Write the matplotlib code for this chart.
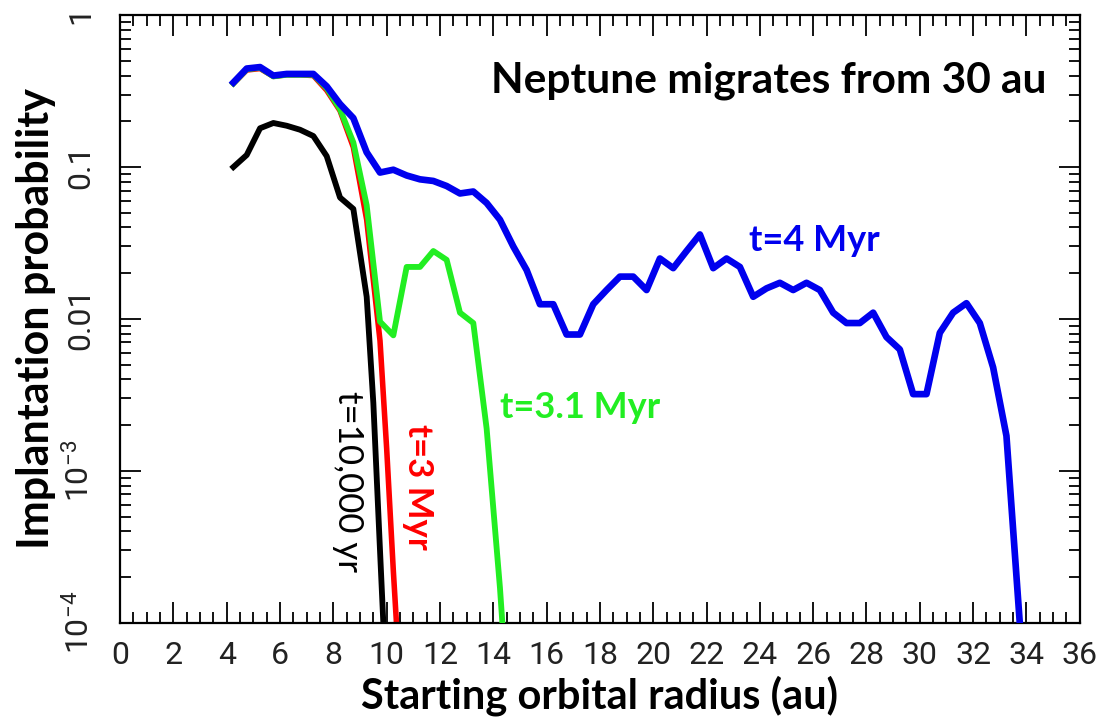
import matplotlib.pyplot as plt
from matplotlib.ticker import MultipleLocator, LogLocator, FixedLocator, NullFormatter

# starting radius (au) and implantation probability for each snapshot
blue_x = [4.25, 4.75, 5.25, 5.75, 6.25, 6.75, 7.25, 7.75, 8.25, 8.75, 9.25, 9.75,
          10.25, 10.75, 11.25, 11.75, 12.25, 12.75, 13.25, 13.75, 14.25, 14.75,
          15.25, 15.75, 16.25, 16.75, 17.25, 17.75, 18.25, 18.75, 19.25, 19.75,
          20.25, 20.75, 21.25, 21.75, 22.25, 22.75, 23.25, 23.75, 24.25, 24.75,
          25.25, 25.75, 26.25, 26.75, 27.25, 27.75, 28.25, 28.75, 29.25, 29.75,
          30.25, 30.75, 31.25, 31.75, 32.25, 32.75, 33.25, 33.75]
blue_y = [0.36, 0.445, 0.455, 0.40, 0.41, 0.41, 0.41, 0.34, 0.26, 0.21, 0.125, 0.092,
          0.096, 0.088, 0.083, 0.081, 0.075, 0.067, 0.069, 0.058, 0.045, 0.030,
          0.021, 0.0125, 0.0125, 0.0079, 0.0079, 0.0125, 0.0155, 0.019, 0.019, 0.0155,
          0.025, 0.0216, 0.028, 0.036, 0.0216, 0.025, 0.022, 0.014, 0.0159, 0.0173,
          0.0155, 0.0173, 0.0155, 0.011, 0.0094, 0.0094, 0.011, 0.0076, 0.0063, 0.0032,
          0.0032, 0.0081, 0.011, 0.0127, 0.0094, 0.0048, 0.0017, 0.0001]

green_x = [4.25, 4.75, 5.25, 5.75, 6.25, 6.75, 7.25, 7.75, 8.25, 8.75, 9.25, 9.75,
           10.25, 10.75, 11.25, 11.75, 12.25, 12.75, 13.25, 13.75, 14.25, 14.4]
green_y = [0.355, 0.44, 0.45, 0.395, 0.405, 0.405, 0.405, 0.33, 0.24, 0.145, 0.056, 0.0096,
           0.0078, 0.022, 0.022, 0.028, 0.0245, 0.011, 0.0094, 0.0019, 0.00017, 0.00007]

red_x = [4.25, 4.75, 5.25, 5.75, 6.25, 6.75, 7.25, 7.75, 8.25, 8.75, 9.25, 9.5,
         9.75, 10.0, 10.25, 10.4]
red_y = [0.355, 0.435, 0.445, 0.395, 0.405, 0.405, 0.40, 0.32, 0.235, 0.135, 0.045, 0.018,
         0.0072, 0.0014, 0.00022, 0.00008]

black_x = [4.25, 4.75, 5.25, 5.75, 6.25, 6.75, 7.25, 7.75, 8.25, 8.75, 9.25, 9.5,
           9.75, 9.9]
black_y = [0.10, 0.12, 0.18, 0.195, 0.187, 0.176, 0.16, 0.118, 0.063, 0.053, 0.014, 0.0028,
           0.0003, 0.00008]

ytick_vals = [1e-4, 1e-3, 1e-2, 1e-1, 1]
ytick_labels = [r'$\mathregular{10^{-4}}$', r'$\mathregular{10^{-3}}$', '0.01', '0.1', '1']

plt.rcParams['font.family'] = ['Lato', 'DejaVu Sans']

fig = plt.figure(figsize=(11.12, 7.2), dpi=100)
ax = fig.add_axes([0.108, 0.135, 0.863, 0.844])

ax.plot(black_x, black_y, color='black', lw=4.2, zorder=1)
ax.plot(red_x, red_y, color='#ff0000', lw=4.0, zorder=2)
ax.plot(green_x, green_y, color='#22ee22', lw=4.2, zorder=3)
ax.plot(blue_x, blue_y, color='#0000ee', lw=4.8, zorder=4)

ax.set_yscale('log')
ax.set_xlim(0, 36)
ax.set_ylim(1e-4, 1)

ax.xaxis.set_major_locator(MultipleLocator(2))
ax.xaxis.set_minor_locator(MultipleLocator(0.5))
ax.yaxis.set_major_locator(FixedLocator(ytick_vals))
ax.yaxis.set_minor_locator(LogLocator(base=10, subs=range(2, 10)))
ax.yaxis.set_minor_formatter(NullFormatter())
ax.set_yticklabels(ytick_labels)

for lab in ax.get_xticklabels() + ax.get_yticklabels():
    lab.set_fontfamily('Roboto')
    lab.set_fontsize(23)
    lab.set_color('#222222')

ax.tick_params(which='both', direction='in', top=True, right=True, width=1.3)
ax.tick_params(which='major', length=15)
ax.tick_params(which='minor', length=8)
ax.tick_params(axis='x', pad=13)
ax.tick_params(axis='y', pad=18, labelrotation=90)
for lab in ax.get_yticklabels():
    lab.set_verticalalignment('center')

for s in ax.spines.values():
    s.set_linewidth(1.6)

ax.set_xlabel('Starting orbital radius (au)', fontsize=30, fontweight='bold', labelpad=4)
ax.set_ylabel('Implantation probability', fontsize=31, fontweight='bold', labelpad=5)

ax.text(13.9, 0.37, 'Neptune migrates from 30 au', fontsize=30.5, fontweight='bold',
        color='black', va='center', ha='left')
ax.text(23.6, 0.033, 't=4 Myr', fontsize=26, fontweight='bold', color='#0000ee',
        va='center', ha='left')
ax.text(14.25, 0.0026, 't=3.1 Myr', fontsize=26, fontweight='bold', color='#22ee22',
        va='center', ha='left')
ax.text(11.17, 0.00079, 't=3 Myr', fontsize=25, fontweight='bold', color='#ff0000',
        va='center', ha='center', rotation=-90)
ax.text(8.55, 0.00085, 't=10,000 yr', fontsize=25, color='black',
        va='center', ha='center', rotation=-90)

fig.savefig('out.png', dpi=100)
